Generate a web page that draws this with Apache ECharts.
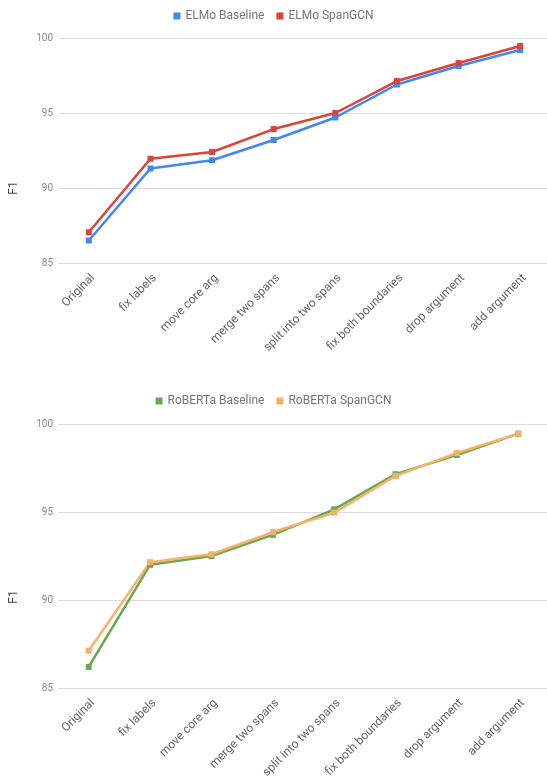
<!DOCTYPE html>
<html>
<head>
<meta charset="utf-8">
<script src="https://cdn.jsdelivr.net/npm/echarts@6/dist/echarts.min.js"></script>
<style>html,body{margin:0;padding:0;background:#fff;}#c{width:547px;height:776px;}</style>
</head>
<body>
<div id="c"></div>
<script>
const categories = ['Original', 'fix labels', 'move core arg', 'merge two spans', 'split into two spans', 'fix both boundaries', 'drop argument', 'add argument'];
const elmoBaseline = [86.5, 91.3, 91.85, 93.2, 94.7, 96.9, 98.13, 99.2];
const elmoSpanGCN = [87.05, 91.95, 92.4, 93.93, 95.0, 97.13, 98.33, 99.47];
const robertaBaseline = [86.2, 92.0, 92.5, 93.7, 95.15, 97.15, 98.24, 99.45];
const robertaSpanGCN = [87.12, 92.15, 92.6, 93.86, 94.96, 97.05, 98.35, 99.45];
const yTicks = { min: 85, max: 100, interval: 5 };

const FONT = 'Roboto';
const chart = echarts.init(document.getElementById('c'), null, { renderer: 'canvas' });

function xAxis(gi) {
  return {
    type: 'category', gridIndex: gi, data: categories, boundaryGap: true,
    axisLine: { show: false }, axisTick: { show: false },
    axisLabel: { rotate: 45, fontSize: 12, color: '#666', fontFamily: FONT, margin: 9, interval: 0, verticalAlign: 'top' }
  };
}
function yAxis(gi) {
  return {
    type: 'value', gridIndex: gi, min: yTicks.min, max: yTicks.max, interval: yTicks.interval,
    axisLine: { show: false }, axisTick: { show: false },
    axisLabel: { fontSize: 10, color: '#888', fontFamily: FONT, margin: 5 },
    splitLine: { lineStyle: { color: '#dcdcdc', width: 1 } }
  };
}
function line(name, data, color, gi) {
  return {
    name, type: 'line', data, xAxisIndex: gi, yAxisIndex: gi,
    symbol: 'rect', symbolSize: 6, showSymbol: true,
    lineStyle: { color, width: 2.5 }, itemStyle: { color },
    animation: false
  };
}
const legendBase = {
  icon: 'rect', itemWidth: 7, itemHeight: 7, itemGap: 12,
  textStyle: { fontSize: 12, color: '#757575', fontFamily: FONT },
  left: 'center'
};

chart.setOption({
  backgroundColor: '#fff',
  animation: false,
  legend: [
    Object.assign({}, legendBase, { top: 5, data: ['ELMo Baseline', 'ELMo SpanGCN'] }),
    Object.assign({}, legendBase, { top: 390, data: ['RoBERTa Baseline', 'RoBERTa SpanGCN'] })
  ],
  grid: [
    { left: 58, top: 38, width: 493, height: 225, outerBoundsMode: 'none', containLabel: false },
    { left: 58, top: 424, width: 491, height: 264, outerBoundsMode: 'none', containLabel: false }
  ],
  xAxis: [xAxis(0), xAxis(1)],
  yAxis: [yAxis(0), yAxis(1)],
  series: [
    line('ELMo Baseline', elmoBaseline, '#4285F4', 0),
    line('ELMo SpanGCN', elmoSpanGCN, '#DB4437', 0),
    line('RoBERTa Baseline', robertaBaseline, '#6AA84F', 1),
    line('RoBERTa SpanGCN', robertaSpanGCN, '#F6B26B', 1)
  ],
  graphic: [
    { type: 'text', x: 14, y: 188, rotation: Math.PI / 2,
      style: { text: 'F1', fontSize: 12, fill: '#444', fontFamily: FONT, align: 'center', verticalAlign: 'middle' } },
    { type: 'text', x: 14, y: 597, rotation: Math.PI / 2,
      style: { text: 'F1', fontSize: 12, fill: '#444', fontFamily: FONT, align: 'center', verticalAlign: 'middle' } }
  ]
});
</script>
</body>
</html>
